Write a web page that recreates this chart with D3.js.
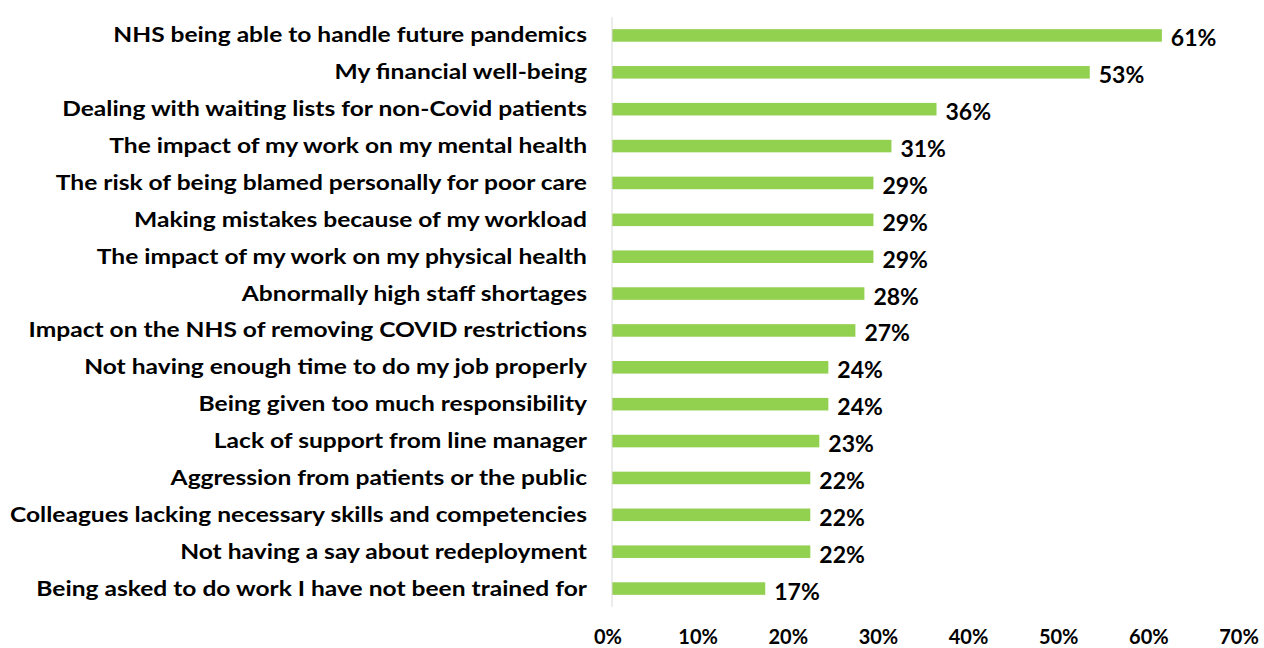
<!DOCTYPE html>
<html>
<head>
<meta charset="utf-8">
<script src="https://cdn.jsdelivr.net/npm/d3@7"></script>
<style>
  body { margin: 0; background: #fff; }
  text { font-family: Lato, "Open Sans", sans-serif; font-weight: bold; fill: #000; }
</style>
</head>
<body>
<svg id="chart" width="1264" height="648"></svg>
<script>
const width = 1264;
const height = 648;

// Dades
const categories = [
  "NHS being able to handle future pandemics",
  "My financial well-being",
  "Dealing with waiting lists for non-Covid patients",
  "The impact of my work on my mental health",
  "The risk of being blamed personally for poor care",
  "Making mistakes because of my workload",
  "The impact of my work on my physical health",
  "Abnormally high staff shortages",
  "Impact on the NHS of removing COVID restrictions",
  "Not having enough time to do my job properly",
  "Being given too much responsibility",
  "Lack of support from line manager",
  "Aggression from patients or the public",
  "Colleagues lacking necessary skills and competencies",
  "Not having a say about redeployment",
  "Being asked to do work I have not been trained for"
];
const values = [61, 53, 36, 31, 29, 29, 29, 28, 27, 24, 24, 23, 22, 22, 22, 17];
const ticks = [0, 10, 20, 30, 40, 50, 60, 70];

const margin = { top: 17, right: 21, bottom: 41, left: 612 };

const svg = d3.select("#chart");

const x = d3.scaleLinear()
  .domain([0, 70])
  .range([margin.left, width - margin.right]);

const y = d3.scaleBand()
  .domain(categories)
  .range([margin.top, height - margin.bottom])
  .paddingInner(0.66)
  .paddingOuter(0.33);

// Barres
svg.append("g")
  .selectAll("rect")
  .data(categories)
  .join("rect")
  .attr("x", x(0))
  .attr("y", d => y(d))
  .attr("width", (d, i) => x(values[i]) - x(0))
  .attr("height", y.bandwidth())
  .attr("fill", "#92D050");

// Eix vertical
svg.append("line")
  .attr("x1", x(0)).attr("x2", x(0))
  .attr("y1", margin.top).attr("y2", height - margin.bottom)
  .attr("stroke", "#d9d9d9")
  .attr("stroke-width", 1);

// Etiquetes de categoria
const labels = svg.append("g")
  .selectAll("text")
  .data(categories)
  .join("text")
  .attr("x", x(0) - 25)
  .attr("y", d => y(d) + y.bandwidth() / 2)
  .attr("dy", "0.35em")
  .attr("text-anchor", "end")
  .style("font-size", "20px")
  .text(d => d);

// Estirar el text perquè ocupi el mateix ample que a l'original (Calibri)
const refNode = labels.filter(d => d === categories[13]).node();
const ratio = 577 / refNode.getComputedTextLength();
labels.each(function () {
  d3.select(this)
    .attr("textLength", this.getComputedTextLength() * ratio)
    .attr("lengthAdjust", "spacingAndGlyphs");
});

// Valors
svg.append("g")
  .selectAll("text")
  .data(categories)
  .join("text")
  .attr("x", (d, i) => x(values[i]) + 9)
  .attr("y", d => y(d) + y.bandwidth() / 2 + 3)
  .attr("dy", "0.35em")
  .style("font-size", "23px")
  .text((d, i) => values[i] + "%");

// Eix X
svg.append("g")
  .selectAll("text")
  .data(ticks)
  .join("text")
  .attr("x", d => x(d) - 4)
  .attr("y", 637)
  .attr("dy", "0.35em")
  .attr("text-anchor", "middle")
  .style("font-size", "20px")
  .text(d => d + "%");
</script>
</body>
</html>
